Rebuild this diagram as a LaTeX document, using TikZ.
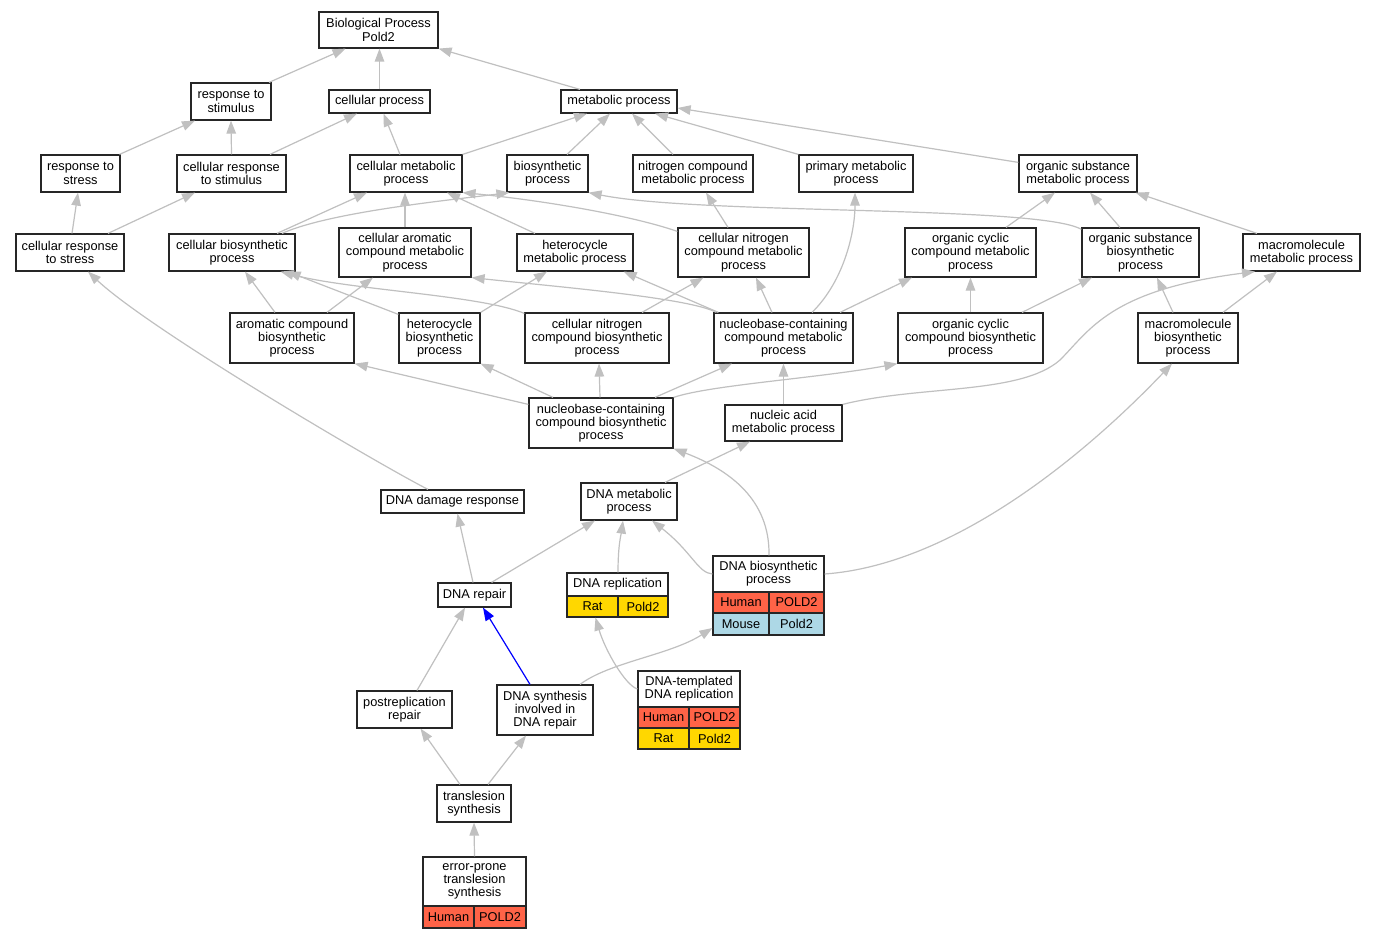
\documentclass[tikz,border=0pt]{standalone}
\usepackage{fontspec}
\setmainfont{Liberation Sans}
\usetikzlibrary{arrows.meta}
\definecolor{edgegray}{RGB}{192,192,192}
\definecolor{humanred}{RGB}{255,99,71}
\definecolor{ratgold}{RGB}{255,215,0}
\definecolor{mouseblue}{RGB}{173,216,230}
\newcommand{\gofont}{\fontsize{12.8}{13.3}\selectfont}
\tikzset{
  box/.style={draw=black!85, line width=1.2pt, fill=white, inner sep=0pt, align=center, font=\gofont},
  humancell/.style={box, fill=humanred},
  ratcell/.style={box, fill=ratgold},
  mousecell/.style={box, fill=mouseblue},
  edge/.style={draw=edgegray, line width=1.2pt, -{Triangle[length=13pt,width=9.5pt]}},
  hiedge/.style={edge, draw=blue}
}
\begin{document}
\begin{tikzpicture}[x=1pt,y=-1pt]
\useasboundingbox[fill=white] (0,0) rectangle (1375,939);
% row 0
\node[box,minimum width=119pt,minimum height=36pt] (bp) at (378.5,30) {Biological Process\\Pold2};
\node[box,minimum width=80pt,minimum height=37pt] (rts) at (231,101.5) {response to\\stimulus};
\node[box,minimum width=101pt,minimum height=23pt] (cp) at (379.5,101.5) {cellular process};
\node[box,minimum width=116pt,minimum height=23pt] (mp) at (619,101.5) {metabolic process};
% row 1
\node[box,minimum width=79pt,minimum height=37pt] (rtstress) at (80.5,173.5) {response to\\stress};
\node[box,minimum width=109pt,minimum height=37pt] (crts) at (231.5,173.5) {cellular response\\to stimulus};
\node[box,minimum width=112pt,minimum height=37pt] (cmp) at (406,173.5) {cellular metabolic\\process};
\node[box,minimum width=81pt,minimum height=37pt] (bsp) at (547.5,173.5) {biosynthetic\\process};
\node[box,minimum width=120pt,minimum height=37pt] (ncmp) at (693,173.5) {nitrogen compound\\metabolic process};
\node[box,minimum width=114pt,minimum height=37pt] (pmp) at (856,173.5) {primary metabolic\\process};
\node[box,minimum width=118pt,minimum height=37pt] (osmp) at (1078,173.5) {organic substance\\metabolic process};
% row 2
\node[box,minimum width=108pt,minimum height=37pt] (crstress) at (70,252.5) {cellular response\\to stress};
\node[box,minimum width=126pt,minimum height=37pt] (cbp) at (232,252.5) {cellular biosynthetic\\process};
\node[box,minimum width=132pt,minimum height=49pt] (cacmp) at (405,252.5) {cellular aromatic\\compound metabolic\\process};
\node[box,minimum width=116pt,minimum height=37pt] (hmp) at (575,252.5) {heterocycle\\metabolic process};
\node[box,minimum width=131pt,minimum height=49pt] (cncmp) at (743.5,252.5) {cellular nitrogen\\compound metabolic\\process};
\node[box,minimum width=131pt,minimum height=49pt] (occmp) at (970.5,252.5) {organic cyclic\\compound metabolic\\process};
\node[box,minimum width=117pt,minimum height=49pt] (osbp) at (1140.5,252.5) {organic substance\\biosynthetic\\process};
\node[box,minimum width=117pt,minimum height=37pt] (mmp) at (1301.5,252.5) {macromolecule\\metabolic process};
% row 3
\node[box,minimum width=124pt,minimum height=50pt] (acbp) at (292,338) {aromatic compound\\biosynthetic\\process};
\node[box,minimum width=81pt,minimum height=50pt] (hbp) at (439.5,338) {heterocycle\\biosynthetic\\process};
\node[box,minimum width=144pt,minimum height=50pt] (cncbp) at (597,338) {cellular nitrogen\\compound biosynthetic\\process};
\node[box,minimum width=139pt,minimum height=50pt] (nccmp) at (783.5,338) {nucleobase-containing\\compound metabolic\\process};
\node[box,minimum width=145pt,minimum height=50pt] (occbp) at (970.5,338) {organic cyclic\\compound biosynthetic\\process};
\node[box,minimum width=100pt,minimum height=50pt] (mbp) at (1188,338) {macromolecule\\biosynthetic\\process};
% row 4
\node[box,minimum width=144pt,minimum height=50pt] (ncbp) at (601,423) {nucleobase-containing\\compound biosynthetic\\process};
\node[box,minimum width=117pt,minimum height=36pt] (namp) at (783.5,423) {nucleic acid\\metabolic process};
% lower part
\node[box,minimum width=143pt,minimum height=23pt] (ddr) at (452.5,501.5) {DNA damage response};
\node[box,minimum width=96pt,minimum height=37pt] (dnamp) at (629,501.5) {DNA metabolic\\process};
\node[box,minimum width=73pt,minimum height=24pt] (dnarep) at (474.5,595) {DNA repair};
\node[box,minimum width=101pt,minimum height=23pt] (dnarepl) at (617.5,584.5) {DNA replication};
\node[ratcell,minimum width=51pt,minimum height=21pt] (dnareplA) at (592.5,606.5) {Rat};
\node[ratcell,minimum width=50pt,minimum height=21pt] (dnareplB) at (643,606.5) {Pold2};
\node[box,minimum width=111pt,minimum height=36pt] (dnabp) at (768.5,574) {DNA biosynthetic\\process};
\node[humancell,minimum width=56pt,minimum height=21pt] (dnabpA) at (741,602.5) {Human};
\node[humancell,minimum width=55pt,minimum height=21pt] (dnabpB) at (796.5,602.5) {POLD2};
\node[mousecell,minimum width=56pt,minimum height=22pt] (dnabpC) at (741,624) {Mouse};
\node[mousecell,minimum width=55pt,minimum height=22pt] (dnabpD) at (796.5,624) {Pold2};
\node[box,minimum width=95pt,minimum height=37pt] (prr) at (404.5,709.5) {postreplication\\repair};
\node[box,minimum width=96pt,minimum height=50pt] (dsidr) at (545,710) {DNA synthesis\\involved in\\DNA repair};
\node[box,minimum width=102pt,minimum height=36pt] (dtr) at (689,689) {DNA-templated\\DNA replication};
\node[humancell,minimum width=51pt,minimum height=21pt] (dtrA) at (663.5,717.5) {Human};
\node[humancell,minimum width=51pt,minimum height=21pt] (dtrB) at (714.5,717.5) {POLD2};
\node[ratcell,minimum width=51pt,minimum height=21pt] (dtrC) at (663.5,738.5) {Rat};
\node[ratcell,minimum width=51pt,minimum height=21pt] (dtrD) at (714.5,738.5) {Pold2};
\node[box,minimum width=74pt,minimum height=37pt] (ts) at (474,803.5) {translesion\\synthesis};
\node[box,minimum width=103pt,minimum height=49pt] (epts) at (474.5,881.5) {error-prone\\translesion\\synthesis};
\node[humancell,minimum width=51pt,minimum height=22pt] (eptsA) at (448.5,917) {Human};
\node[humancell,minimum width=52pt,minimum height=22pt] (eptsB) at (500,917) {POLD2};
% edges
\draw[edge] ([xshift=38pt]rts.north) -- ([xshift=-33pt]bp.south);
\draw[edge] (cp.north) -- ([xshift=1pt]bp.south);
\draw[edge] ([xshift=-39pt]mp.north) -- (bp.south east);
\draw[edge] ([xshift=39pt]rtstress.north) -- ([xshift=-36pt]rts.south);
\draw[edge] (crts.north) -- (rts.south);
\draw[edge] ([xshift=38.5pt]crts.north) -- ([xshift=-22.5pt]cp.south);
\draw[edge] ([xshift=-6pt]cmp.north) -- ([xshift=4pt]cp.south);
\draw[edge] (cmp.north east) -- ([xshift=-32pt]mp.south);
\draw[edge] ([xshift=19.5pt]bsp.north) -- ([xshift=-9pt]mp.south);
\draw[edge] ([xshift=-20pt]ncmp.north) -- ([xshift=13pt]mp.south);
\draw[edge] (pmp.north west) -- ([xshift=36pt]mp.south);
\draw[edge] ([yshift=-8pt]osmp.north west) -- ([yshift=-6.5pt]mp.east);
\draw[edge] ([xshift=2pt]crstress.north) -- ([xshift=-2.5pt]rtstress.south);
\draw[edge] ([xshift=38pt]crstress.north) -- ([xshift=-36.5pt]crts.south);
\draw[edge] ([xshift=45pt]cbp.north) -- ([xshift=-39pt]cmp.south);
\draw[edge] ([xshift=50pt]cbp.north) .. controls (330,212) and (450,200) .. ([xshift=3pt]bsp.south west);
\draw[edge] (cacmp.north) -- ([xshift=-1pt]cmp.south);
\draw[edge] ([xshift=-40pt]hmp.north) -- ([xshift=41pt]cmp.south);
\draw[edge] ([yshift=-4pt]cncmp.north west) .. controls (630,215) and (540,200) .. (cmp.south east);
\draw[edge] ([yshift=-2pt]osbp.north west) .. controls (1040,205) and (700,215) .. (bsp.south east);
\draw[edge] ([xshift=-15.5pt]cncmp.north) -- ([xshift=13pt]ncmp.south);
\draw[edge] ([xshift=28.5pt]nccmp.north) .. controls (845,280) and (855,230) .. ([xshift=-1pt]pmp.south);
\draw[edge] ([xshift=35.5pt]occmp.north) -- ([xshift=-23pt]osmp.south);
\draw[edge] ([xshift=-20.5pt]osbp.north) -- ([xshift=12pt]osmp.south);
\draw[edge] ([xshift=-44.5pt]mmp.north) -- ([xshift=-2pt]osmp.south east);
\draw[edge] ([xshift=-24.5pt]ddr.north) .. controls (380,465) and (150,330) .. ([xshift=18pt]crstress.south);
\draw[edge] ([xshift=-17pt]acbp.north) -- ([xshift=13pt]cbp.south);
\draw[edge] ([yshift=-2pt]hbp.north west) -- ([xshift=-8pt]cbp.south east);
\draw[edge] ([yshift=-1pt]cncbp.north west) .. controls (480,295) and (350,290) .. ([xshift=-15pt]cbp.south east);
\draw[edge] ([xshift=35pt]acbp.north) -- ([xshift=-32pt]cacmp.south);
\draw[edge] ([xshift=3pt]nccmp.north west) .. controls (690,298) and (560,287) .. (cacmp.south east);
\draw[edge] (hbp.north east) -- ([xshift=-28pt]hmp.south);
\draw[edge] ([xshift=5pt]nccmp.north west) -- ([xshift=-10pt]hmp.south east);
\draw[edge] ([xshift=45pt]cncbp.north) -- ([xshift=-40pt]cncmp.south);
\draw[edge] ([xshift=-11.5pt]nccmp.north) -- ([xshift=12.5pt]cncmp.south);
\draw[edge] ([xshift=56.5pt]nccmp.north) -- ([xshift=-58.5pt]occmp.south);
\draw[edge] (occbp.north) -- (occmp.south);
\draw[edge] ([xshift=51.5pt]occbp.north) -- ([xshift=-48.5pt]osbp.south);
\draw[edge] ([xshift=-15pt]mbp.north) -- ([xshift=16.5pt]osbp.south);
\draw[edge] ([xshift=35pt]mbp.north) -- ([xshift=-24.5pt]mmp.south);
\draw[edge] (namp.north east) .. controls (920,385) and (1020,395) .. (1060,360) .. controls (1090,330) and (1110,290) .. ([xshift=-46.5pt]mmp.south);
\draw[edge] ([yshift=-7pt]ncbp.north west) -- (acbp.south east);
\draw[edge] ([xshift=-48pt]ncbp.north) -- (hbp.south east);
\draw[edge] ([xshift=-1pt]ncbp.north) -- ([xshift=2pt]cncbp.south);
\draw[edge] ([xshift=54pt]ncbp.north) -- ([xshift=-51.5pt]nccmp.south);
\draw[edge] (ncbp.north east) .. controls (710,385) and (820,378) .. (occbp.south west);
\draw[edge] (namp.north) -- (nccmp.south);
\draw[edge] ([xshift=36pt]dnamp.north) -- ([xshift=-33.5pt]namp.south);
\draw[edge] ([xshift=0.5pt]dnabp.north) .. controls (770,500) and (730,470) .. (ncbp.south east);
\draw[edge] ([xshift=-1.5pt]dnarep.north) -- ([xshift=5pt]ddr.south);
\draw[edge] ([xshift=17pt]dnarep.north) -- ([xshift=-34pt]dnamp.south);
\draw[edge] ([xshift=0.5pt]dnarepl.north) .. controls (618,545) and (621,535) .. ([xshift=-6pt]dnamp.south);
\draw[edge] (dnabp.west) .. controls (698,573) and (692,552) .. ([xshift=23pt]dnamp.south);
\draw[edge] (dnabp.east) .. controls (950,565) and (1080,460) .. ([xshift=-16pt]mbp.south);
\draw[edge] (dtr.west) .. controls (625,685) and (605,650) .. ([xshift=3pt]dnareplA.south);
\draw[edge] ([xshift=35pt]dsidr.north) .. controls (610,662) and (670,655) .. ([yshift=-4pt]dnabpC.west);
\draw[edge] ([xshift=12.5pt]prr.north) -- ([xshift=-9.5pt]dnarep.south);
\draw[hiedge] ([xshift=-15pt]dsidr.north) -- ([xshift=8.5pt]dnarep.south);
\draw[edge] ([xshift=-14pt]ts.north) -- ([xshift=16pt]prr.south);
\draw[edge] ([xshift=14pt]ts.north) -- ([xshift=-19pt]dsidr.south);
\draw[edge] (epts.north) -- (ts.south);
\end{tikzpicture}
\end{document}
